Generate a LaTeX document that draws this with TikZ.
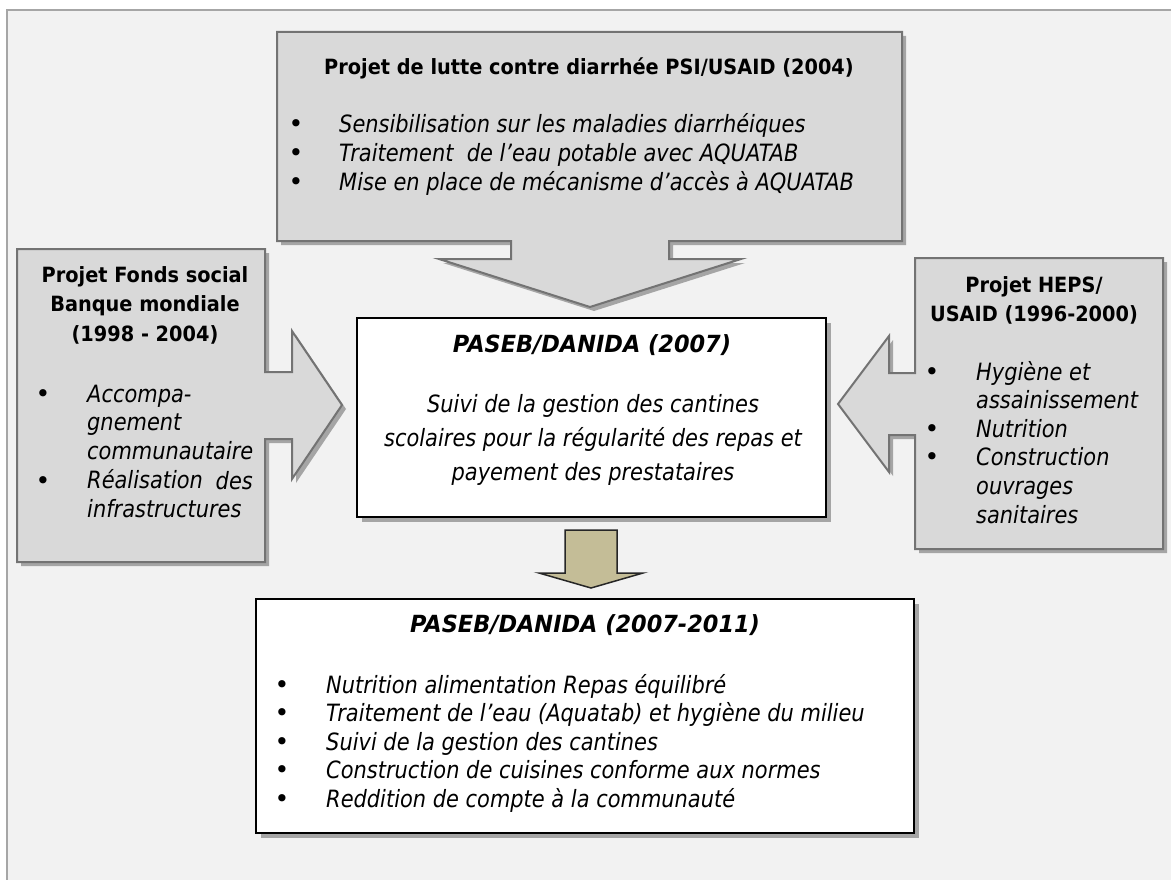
\documentclass[tikz,border=0pt]{standalone}
\usepackage{fontspec}
\setmainfont{DejaVu Sans}
\newfontfamily\boxfont{DejaVu Sans}[FakeStretch=0.92]
\newfontfamily\itemfont{DejaVu Sans}[FakeStretch=0.88]
\newfontfamily\headfont{DejaVu Sans}[FakeStretch=0.95]
\usetikzlibrary{shadows}
\definecolor{paper}{HTML}{F2F2F2}
\definecolor{frameline}{HTML}{A6A6A6}
\definecolor{calloutfill}{HTML}{D9D9D9}
\definecolor{calloutline}{HTML}{737373}
\definecolor{shadegray}{HTML}{A5A5A5}
\definecolor{khaki}{HTML}{C4BD97}
\tikzset{
  callout/.style={fill=calloutfill, draw=calloutline, line width=2pt,
    drop shadow={opacity=1, fill=shadegray, shadow xshift=4pt, shadow yshift=-4pt}},
  panel/.style={fill=white, draw=black, line width=1.8pt,
    drop shadow={opacity=1, fill=shadegray, shadow xshift=5pt, shadow yshift=-5pt}},
  sarrow/.style={fill=khaki, draw=black!85, line width=1.5pt},
  dot/.style={inner sep=0, anchor=base, font=\fontsize{25}{28}\selectfont},
  ttl/.style={inner sep=0, anchor=base, font=\boxfont\bfseries\fontsize{21}{24}\selectfont},
  itm/.style={inner sep=0, anchor=base west, font=\itemfont\itshape\fontsize{23.8}{27}\selectfont},
  citm/.style={itm, anchor=base},
  bttl/.style={inner sep=0, anchor=base, font=\headfont\bfseries\itshape\fontsize{23.6}{27}\selectfont}
}
\begin{document}
\begin{tikzpicture}[x=1pt,y=-1pt]
\useasboundingbox (0,0) rectangle (1171,880);
\fill[paper] (7,10) rectangle (1171,880);
\draw[frameline, line width=2.5pt] (7,880) -- (7,10) -- (1171,10);

% PSI/USAID
\draw[callout] (277,32) -- (902,32) -- (902,241) -- (669,241) -- (669,259) -- (741,259)
  -- (590,307) -- (439,259) -- (511,259) -- (511,241) -- (277,241) -- cycle;
\node[ttl] (psi) at (589,75) {Projet de lutte contre diarrhée PSI/USAID (2004)};
\foreach \t [count=\i] in {Sensibilisation sur les maladies diarrhéiques,
    Traitement~ de l’eau potable avec AQUATAB, Mise en place de mécanisme d’accès à AQUATAB} {
  \node[dot] (psid\i) at (296,104+29*\i) {\textbullet};
  \node[itm] (psit\i) at (339,104+29*\i) {\t};
}

% Fonds social
\draw[callout] (17,249) -- (265,249) -- (265,372) -- (292,372) -- (292,331) -- (342,405)
  -- (292,479) -- (292,439) -- (265,439) -- (265,562) -- (17,562) -- cycle;
\foreach \t [count=\i] in {Projet Fonds social, Banque mondiale, (1998 - 2004)}
  \node[ttl] (fst\i) at (145,252.5+29.5*\i) {\t};
\node[dot] (fsd1) at (43,402) {\textbullet};
\node[dot] (fsd2) at (43,489) {\textbullet};
\foreach \t [count=\i] in {Accompa-, gnement, communautaire, Réalisation, infrastructures}
  \node[itm] (fsi\i) at (87,373.2+28.8*\i) {\t};
\node[itm, anchor=base east] (fsdes) at (253,489) {des};

% HEPS/USAID
\draw[callout] (1163,258) -- (915,258) -- (915,373) -- (889,373) -- (889,336) -- (838,404)
  -- (889,472) -- (889,435) -- (915,435) -- (915,549) -- (1163,549) -- cycle;
\node[ttl] (heps1) at (1034,292) {Projet HEPS/};
\node[ttl] (heps2) at (1034,321) {USAID (1996-2000)};
\foreach \j in {1,3,4}
  \node[dot] (hepsd\j) at (932,351.5+28.6*\j) {\textbullet};
\foreach \t [count=\i] in {Hygiène et, assainissement, Nutrition, Construction, ouvrages, sanitaires}
  \node[itm] (hepsi\i) at (976,351.5+28.6*\i) {\t};

% PASEB 2007
\draw[panel] (357,318) rectangle (826,517);
\node[bttl] (pas) at (592,352) {PASEB/DANIDA (2007)};
\foreach \t [count=\i] in {Suivi de la gestion des cantines,
    scolaires pour la régularité des repas et, payement des prestataires}
  \node[citm] (pasl\i) at (593,378+34*\i) {\t};

\draw[sarrow] (565,530) -- (617,530) -- (617,573) -- (643,573) -- (591,588) -- (539,573)
  -- (565,573) -- cycle;

% PASEB 2007-2011
\draw[panel] (256,599) rectangle (914,833);
\node[bttl] (dan) at (585,632) {PASEB/DANIDA (2007-2011)};
\foreach \t [count=\i] in {Nutrition alimentation Repas équilibré,
    Traitement de l’eau (Aquatab) et hygiène du milieu, Suivi de la gestion des cantines,
    Construction de cuisines conforme aux normes, Reddition de compte à la communauté} {
  \node[dot] (dand\i) at (282,664.5+28.5*\i) {\textbullet};
  \node[itm] (dani\i) at (326,664.5+28.5*\i) {\t};
}
\end{tikzpicture}
\end{document}
